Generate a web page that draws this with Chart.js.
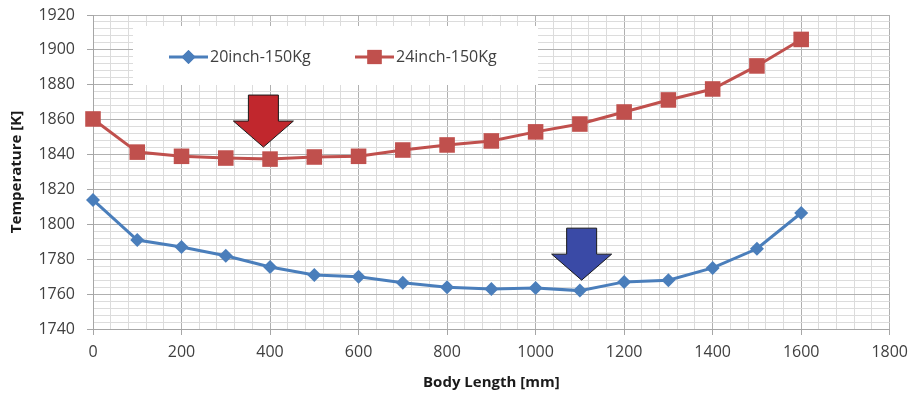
<!DOCTYPE html>
<html>
<head>
<meta charset="utf-8">
<script src="https://cdn.jsdelivr.net/npm/chart.js@4.4.1/dist/chart.umd.min.js"></script>
<style>
  html, body { margin: 0; padding: 0; background: #fff; }
  #wrap { width: 916px; height: 396px; }
</style>
</head>
<body>
<div id="wrap"><canvas id="chart" width="916" height="396"></canvas></div>
<script>
const bodyLength = [0, 100, 200, 300, 400, 500, 600, 700, 800, 900, 1000, 1100, 1200, 1300, 1400, 1500, 1600];
const temp20inch = [1814, 1791, 1787, 1782, 1775.5, 1771, 1770, 1766.5, 1764, 1763, 1763.5, 1762, 1767, 1768, 1775, 1786, 1806.5];
const temp24inch = [1860.4, 1841.4, 1839, 1838, 1837.4, 1838.6, 1839, 1842.6, 1845.5, 1847.8, 1853, 1857.5, 1864.4, 1871.3, 1877.6, 1890.8, 1906];
const seriesLabels = ['20inch-150Kg', '24inch-150Kg'];

// arrows marking the minimum of each curve (tip position in data units)
const arrowX = [385, 1104];
const arrowTipY = [1844.3, 1768];
const arrowColors = ['#c1272d', '#3a4aa6'];

const BLUE = '#4a7ebb';
const RED = '#c0504d';
const FONT = '"Open Sans", Lato, sans-serif';

const toPoints = (ys) => bodyLength.map((x, i) => ({ x, y: ys[i] }));

const legendBox = {
  id: 'legendBox',
  beforeDatasetsDraw(chart) {
    const { ctx, chartArea } = chart;
    const x0 = chartArea.left + 40, y0 = chartArea.top + 11;
    ctx.save();
    ctx.fillStyle = '#fff';
    ctx.fillRect(x0, y0, 405, 59);
    const cy = y0 + 31;
    const items = [
      { x: x0 + 36, color: BLUE, style: 'rectRot', r: 7, label: seriesLabels[0] },
      { x: x0 + 222, color: RED, style: 'rect', r: 10, label: seriesLabels[1] },
    ];
    ctx.font = '16px ' + FONT;
    ctx.textBaseline = 'middle';
    items.forEach(it => {
      ctx.strokeStyle = it.color;
      ctx.lineWidth = 3;
      ctx.beginPath();
      ctx.moveTo(it.x, cy);
      ctx.lineTo(it.x + 39, cy);
      ctx.stroke();
      ctx.fillStyle = it.color;
      Chart.helpers.drawPoint(ctx, { pointStyle: it.style, radius: it.r, borderWidth: 0 }, it.x + 19.5, cy);
      ctx.fill();
      ctx.fillStyle = '#404040';
      ctx.fillText(it.label, it.x + 41, cy);
    });
    ctx.restore();
  }
};

const arrows = {
  id: 'arrows',
  afterDatasetsDraw(chart) {
    const { ctx, scales } = chart;
    ctx.save();
    arrowX.forEach((ax, i) => {
      const cx = scales.x.getPixelForValue(ax);
      const tip = scales.y.getPixelForValue(arrowTipY[i]);
      const top = tip - 52, neck = tip - 26;
      ctx.beginPath();
      ctx.moveTo(cx - 15, top);
      ctx.lineTo(cx + 15, top);
      ctx.lineTo(cx + 15, neck);
      ctx.lineTo(cx + 30, neck);
      ctx.lineTo(cx, tip);
      ctx.lineTo(cx - 30, neck);
      ctx.lineTo(cx - 15, neck);
      ctx.closePath();
      ctx.fillStyle = arrowColors[i];
      ctx.fill();
      ctx.strokeStyle = '#1a1a1a';
      ctx.lineWidth = 1;
      ctx.stroke();
    });
    ctx.restore();
  }
};

new Chart(document.getElementById('chart'), {
  type: 'line',
  data: {
    datasets: [
      {
        label: seriesLabels[0],
        data: toPoints(temp20inch),
        borderColor: BLUE,
        backgroundColor: BLUE,
        borderWidth: 3,
        pointStyle: 'rectRot',
        pointRadius: 7,
        pointBorderWidth: 0,
        tension: 0,
        clip: false,
      },
      {
        label: seriesLabels[1],
        data: toPoints(temp24inch),
        borderColor: RED,
        backgroundColor: RED,
        borderWidth: 3,
        pointStyle: 'rect',
        pointRadius: 11,
        pointBorderWidth: 0,
        tension: 0,
        clip: false,
      },
    ],
  },
  options: {
    responsive: false,
    animation: false,
    layout: { padding: { left: 0, right: 24, top: 15, bottom: 0 } },
    plugins: {
      legend: { display: false },
      tooltip: { enabled: false },
    },
    scales: {
      x: {
        type: 'linear',
        min: 0,
        max: 1800,
        afterFit: (s) => { s.height = 67; },
        border: { color: '#a6a6a6', width: 1 },
        grid: {
          color: (c) => (c.tick.value % 200 === 0 ? '#b0b0b0' : '#dcdcdc'),
          tickColor: (c) => (c.tick.value % 200 === 0 ? '#a6a6a6' : 'rgba(0,0,0,0)'),
          tickLength: 6,
        },
        ticks: {
          stepSize: 40,
          autoSkip: false,
          maxRotation: 0,
          padding: 8,
          color: '#404040',
          font: { family: FONT, size: 16 },
          callback: (v) => (v % 200 === 0 ? String(v) : ''),
        },
        title: {
          display: true,
          text: 'Body Length [mm]',
          color: '#1a1a1a',
          font: { family: FONT, size: 15, weight: 'bold' },
          padding: { top: 6 },
        },
      },
      y: {
        min: 1740,
        max: 1920,
        afterFit: (s) => { s.width = 93; s.paddingTop = 0; },
        border: { color: '#a6a6a6', width: 1 },
        grid: {
          color: (c) => (c.tick.value % 20 === 0 ? '#b0b0b0' : '#dcdcdc'),
          tickColor: (c) => (c.tick.value % 20 === 0 ? '#a6a6a6' : 'rgba(0,0,0,0)'),
          tickLength: 6,
        },
        ticks: {
          stepSize: 4,
          autoSkip: false,
          padding: 12,
          color: '#404040',
          font: { family: FONT, size: 16 },
          callback: (v) => (v % 20 === 0 ? String(v) : ''),
        },
        title: {
          display: true,
          text: 'Temperature [K]',
          color: '#1a1a1a',
          font: { family: FONT, size: 15, weight: 'bold' },
          padding: { top: 8, bottom: 0 },
        },
      },
    },
  },
  plugins: [legendBox, arrows],
});
</script>
</body>
</html>
